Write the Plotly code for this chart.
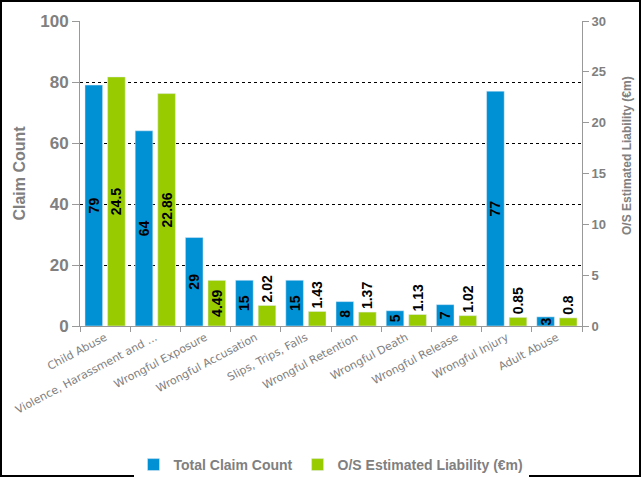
import plotly.graph_objects as go

categories = ["Child Abuse", "Violence, Harassment and ...", "Wrongful Exposure",
              "Wrongful Accusation", "Slips, Trips, Falls", "Wrongful Retention",
              "Wrongful Death", "Wrongful Release", "Wrongful Injury", "Adult Abuse"]
claim_count = [79, 64, 29, 15, 15, 8, 5, 7, 77, 3]
liability = [24.5, 22.86, 4.49, 2.02, 1.43, 1.37, 1.13, 1.02, 0.85, 0.8]
left_ticks = [0, 20, 40, 60, 80, 100]
right_ticks = [0, 5, 10, 15, 20, 25, 30]

BLUE = "#0090D4"
GREEN = "#99CC00"
GRAY = "#808080"
W, H = 641, 477
ML, MR, MT, MB = 80, 59, 21, 151
PW, PH = W - ML - MR, H - MT - MB

label_font = dict(family="Liberation Sans, Arial", size=14, color="black", weight="bold")

green_pos = ["inside" if v > 3 else "outside" for v in liability]

fig = go.Figure()
fig.add_trace(go.Bar(
    x=categories, y=claim_count, name="Total Claim Count",
    marker=dict(color=BLUE), text=[str(v) for v in claim_count],
    textposition="inside", insidetextanchor="middle", textangle=-90,
    constraintext="none", textfont=label_font, yaxis="y",
    offsetgroup="a",
))
fig.add_trace(go.Bar(
    x=categories, y=liability, name="O/S Estimated Liability (€m)",
    marker=dict(color=GREEN), text=[f"{v:g}" for v in liability],
    textposition=green_pos, insidetextanchor="middle", textangle=-90,
    constraintext="none", textfont=label_font, outsidetextfont=label_font,
    cliponaxis=False, yaxis="y2", offsetgroup="b",
))

fig.update_layout(
    width=W, height=H,
    margin=dict(l=ML, r=MR, t=MT, b=MB, autoexpand=False),
    paper_bgcolor="white", plot_bgcolor="white",
    barmode="group", bargap=0.1, bargroupgap=0.22,
    font=dict(family="Liberation Sans, Arial", color=GRAY),
    xaxis=dict(
        showline=True, linecolor="#999999", linewidth=1,
        ticks="outside", tickson="boundaries", ticklen=5, tickcolor="#999999",
        tickangle=-28, tickfont=dict(family="DejaVu Sans, Verdana", size=11, color="#808080"),
        showgrid=False,
    ),
    yaxis=dict(
        range=[0, 100], tickvals=left_ticks, showline=True, linecolor="#999999",
        ticks="outside", ticklen=7, tickcolor="#999999",
        tickfont=dict(family="Liberation Sans, Arial", size=17, color=GRAY, weight="bold"),
        showgrid=True, gridcolor="black", griddash="dot", gridwidth=1,
        zeroline=False,
        title=dict(text="Claim Count", font=dict(size=16, color=GRAY, weight="bold"), standoff=10),
    ),
    yaxis2=dict(
        range=[0, 30], tickvals=right_ticks, overlaying="y", side="right",
        showline=True, linecolor="#999999", ticks="outside", ticklen=6, tickcolor="#999999",
        tickfont=dict(family="Liberation Sans, Arial", size=13, color=GRAY, weight="bold"),
        showgrid=False, zeroline=False,
    ),
    legend=dict(
        orientation="h", x=0.5, xanchor="center", y=(MT + PH - 465) / PH,
        yanchor="middle", font=dict(size=14, color=GRAY, weight="bold"),
        itemwidth=30, traceorder="normal",
    ),
    showlegend=True,
)

fig.add_annotation(
    text="O/S Estimated Liability (€m)", textangle=-90,
    xref="paper", yref="paper", x=(627 - ML) / PW, y=(MT + PH - 156) / PH,
    showarrow=False, font=dict(size=12, color=GRAY, weight="bold"),
    xanchor="center", yanchor="middle",
)

fig.add_shape(
    type="rect", xref="paper", yref="paper",
    x0=(1 - ML) / PW, x1=1 + (MR - 1) / PW,
    y0=-(MB - 1) / PH, y1=1 + (MT - 1) / PH,
    line=dict(color="black", width=2), layer="above",
)

fig.write_html("out.html")
